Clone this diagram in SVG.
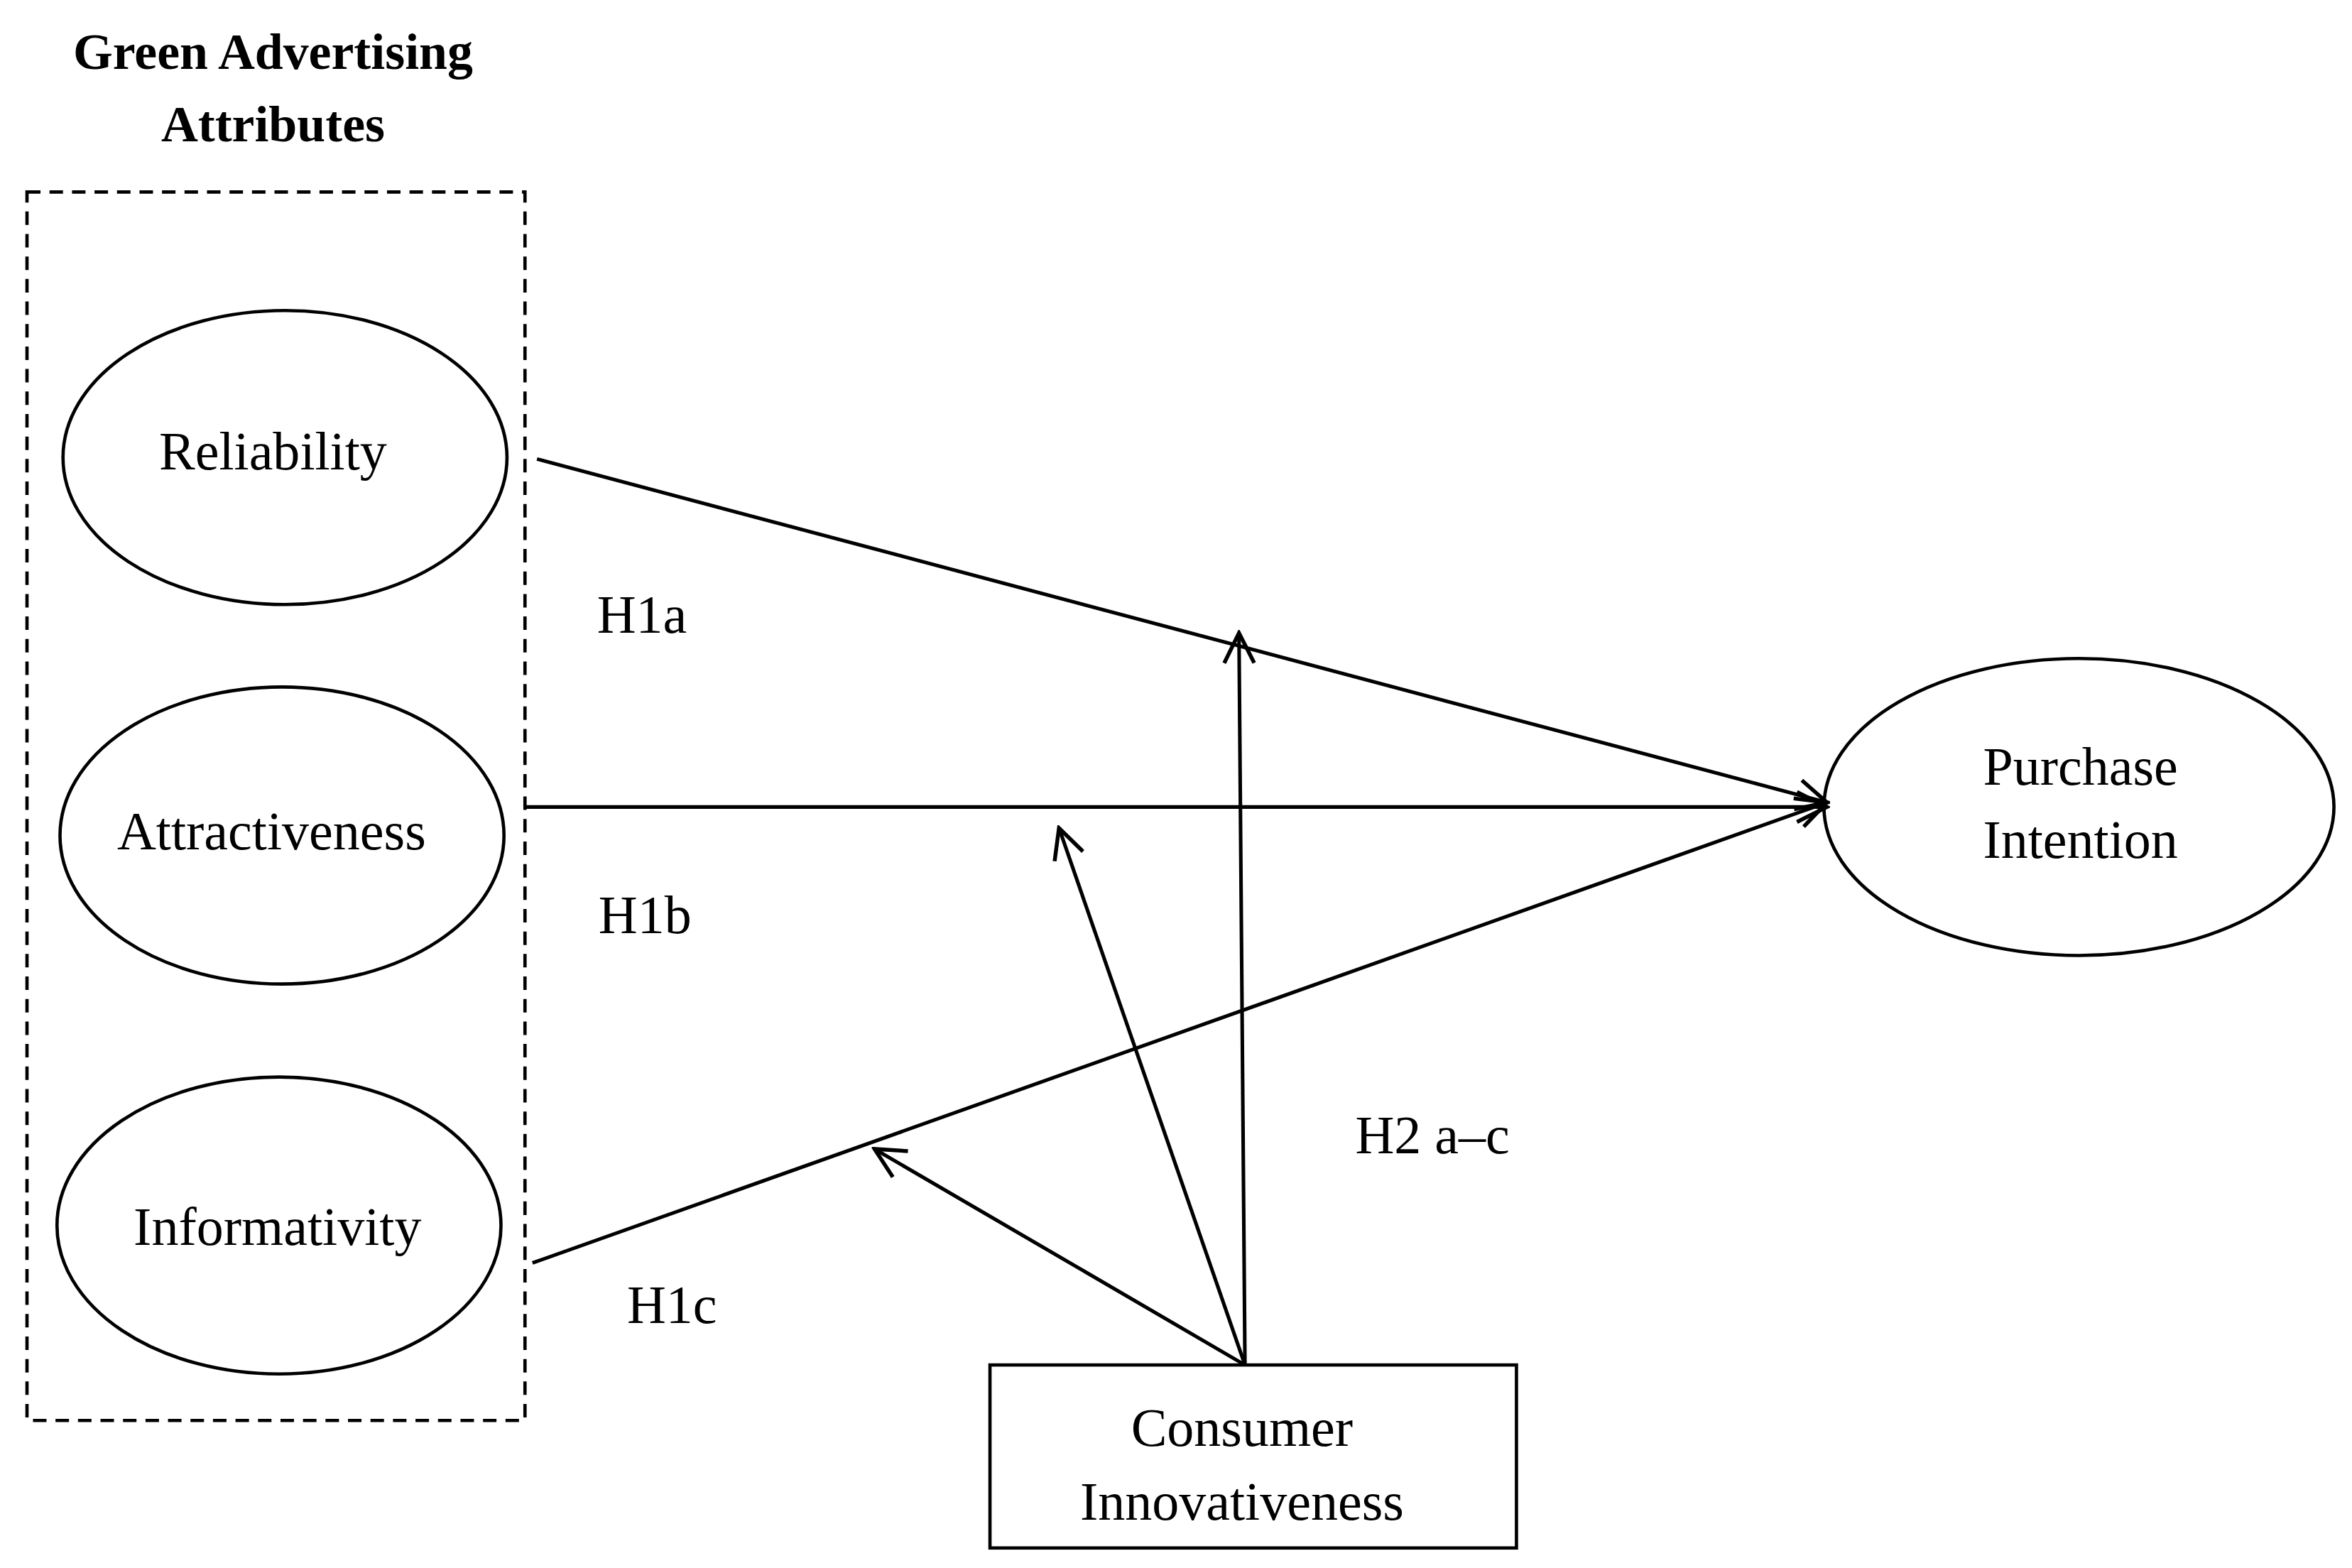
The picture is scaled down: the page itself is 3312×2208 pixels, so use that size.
<svg xmlns="http://www.w3.org/2000/svg" width="3312" height="2208" viewBox="0 0 3312 2208">
<style>
.t{font-family:"Liberation Serif",serif;font-size:36px;fill:#000;text-anchor:middle}
.b{font-weight:bold;font-size:34px}
.s{fill:#fff;stroke:#000;stroke-width:2.2}
.c{stroke:#000;stroke-width:2.4;fill:none}
</style>
<defs>
<marker id="a" markerUnits="userSpaceOnUse" markerWidth="26" markerHeight="26" viewBox="0 0 26 26" refX="24" refY="13" orient="auto">
<path d="M4,3 L24,13 L4,23" fill="none" stroke="#000" stroke-width="2.6"/>
</marker>
</defs>
<rect width="3312" height="2208" fill="#fff"/>
<g transform="scale(2.1122)">
<g id="group">
<text class="t b" x="182" y="46">Green Advertising</text>
<text class="t b" x="182" y="94">Attributes</text>
<rect x="18" y="128" width="332" height="819" fill="none" stroke="#000" stroke-width="2.2" stroke-dasharray="9,6"/>
</g>
<g id="reliability"><ellipse class="s" cx="190" cy="305" rx="148" ry="98"/><text class="t" x="182" y="313">Reliability</text></g>
<g id="attractiveness"><ellipse class="s" cx="188" cy="557" rx="148" ry="99"/><text class="t" x="181" y="566">Attractiveness</text></g>
<g id="informativity"><ellipse class="s" cx="186" cy="817" rx="148" ry="99"/><text class="t" x="185" y="830">Informativity</text></g>
<g id="purchase"><ellipse class="s" cx="1386" cy="538" rx="170" ry="99"/><text class="t" x="1387" y="523">Purchase</text><text class="t" x="1387" y="572">Intention</text></g>
<g id="innovativeness"><rect class="s" x="660" y="910" width="351" height="122"/><text class="t" x="828" y="964">Consumer</text><text class="t" x="828" y="1013">Innovativeness</text></g>
<g id="connectors">
<line class="c" x1="358" y1="306" x2="1218" y2="535" marker-end="url(#a)"/>
<line class="c" x1="350" y1="538" x2="1218" y2="538" marker-end="url(#a)"/>
<line class="c" x1="355" y1="842" x2="1218" y2="535" marker-end="url(#a)"/>
<line class="c" x1="830" y1="910" x2="826" y2="422" marker-end="url(#a)"/>
<line class="c" x1="830" y1="910" x2="706" y2="552" marker-end="url(#a)"/>
<line class="c" x1="830" y1="910" x2="583" y2="766" marker-end="url(#a)"/>
</g>
<g id="labels">
<text class="t" x="428" y="422">H1a</text>
<text class="t" x="430" y="622">H1b</text>
<text class="t" x="448" y="882">H1c</text>
<text class="t" x="955" y="769">H2 a–c</text>
</g>
</g>
</svg>
